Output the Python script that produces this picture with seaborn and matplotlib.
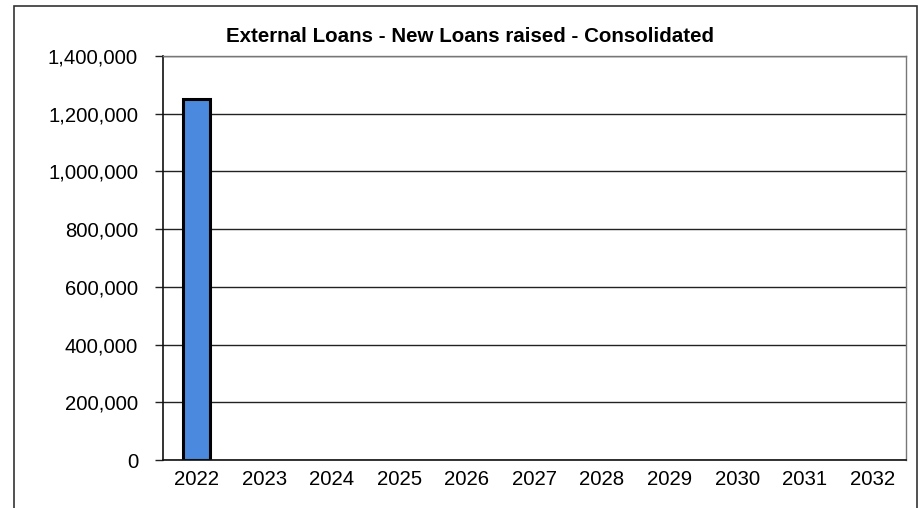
import matplotlib
matplotlib.use("Agg")
import matplotlib.pyplot as plt
import seaborn as sns
import pandas as pd
from matplotlib.patches import Rectangle
from matplotlib.ticker import FuncFormatter, MultipleLocator

years = ["2022", "2023", "2024", "2025", "2026", "2027", "2028", "2029", "2030", "2031", "2032"]
new_loans = [1250000, 0, 0, 0, 0, 0, 0, 0, 0, 0, 0]

sns.set_theme(style="white")
plt.rcParams["font.family"] = ["Liberation Sans", "DejaVu Sans"]

df = pd.DataFrame({"year": years, "amount": new_loans})

fig = plt.figure(figsize=(9.18, 5.08), dpi=100)
ax = fig.add_axes([163 / 918, 1 - 460 / 508, (906 - 163) / 918, (460 - 56) / 508])

sns.barplot(data=df, x="year", y="amount", color="#4b89de", saturation=1,
            width=0.4, edgecolor="black", linewidth=2.2, ax=ax)
for p in ax.patches:
    if p.get_height() == 0:
        p.set_linewidth(0)

ax.set_ylim(0, 1400000)
ax.set_xlim(-0.5, len(years) - 0.5)
ax.yaxis.set_major_locator(MultipleLocator(200000))
ax.yaxis.set_major_formatter(FuncFormatter(lambda v, _: f"{int(v):,}"))
ax.grid(axis="y", color="#222222", linewidth=1.0)
ax.set_axisbelow(True)
ax.set_xlabel("")
ax.set_ylabel("")

# category separator ticks on the x axis
ax.set_xticks([i + 0.5 for i in range(-1, len(years))], minor=True)
ax.tick_params(axis="x", which="minor", length=6, width=1, color="#222222", direction="out")
ax.tick_params(axis="x", which="major", length=0, labelsize=14.7, pad=7)
ax.tick_params(axis="y", which="major", length=6, width=1, color="#222222",
               direction="out", labelsize=14.6, pad=12, left=True)
for lab in ax.get_xticklabels() + ax.get_yticklabels():
    lab.set_color("black")

for side in ["left", "bottom"]:
    ax.spines[side].set_color("#111111")
    ax.spines[side].set_linewidth(1.2)
for side in ["top", "right"]:
    ax.spines[side].set_visible(True)
    ax.spines[side].set_color("#777777")
    ax.spines[side].set_linewidth(1.0)

fig.text(470 / 918, 1 - 37 / 508, "External Loans - New Loans raised - Consolidated",
         ha="center", va="center", fontsize=14.8, fontweight="bold", color="black")

# outer chart frame
fig.patches.append(Rectangle((14 / 918, -0.05), (917 - 14) / 918, 1 - 6 / 508 + 0.05,
                             transform=fig.transFigure, fill=False,
                             edgecolor="#333333", linewidth=1.2))

fig.savefig("out.png", dpi=100, facecolor="white")
